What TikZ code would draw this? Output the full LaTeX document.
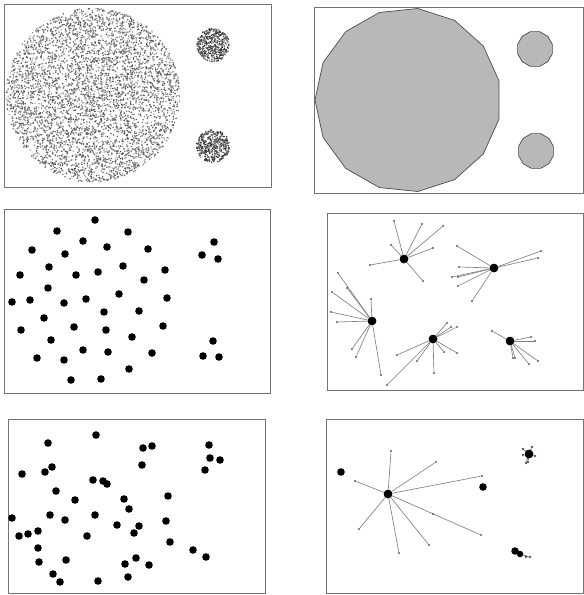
\documentclass[tikz,border=0pt]{standalone}
\begin{document}
\begin{tikzpicture}[x=1pt,y=-1pt,
  panel/.style={draw=black!55,line width=0.9pt},
  bigdot/.style={circle,fill=black,inner sep=0pt,minimum size=7.6pt},
  hub/.style={circle,fill=black,inner sep=0pt,minimum size=8.5pt},
  tipdot/.style={circle,fill=black!65,inner sep=0pt,minimum size=2.4pt},
  spoke/.style={draw=black!50,line width=0.65pt},
  blob/.style={draw=black!70,line width=0.7pt,fill=black!28}]
\useasboundingbox (0,0) rectangle (584,595);
\fill[white] (0,0) rectangle (584,595);
\pgfmathsetseed{42}

% ---------- panel 1 : stippled discs ----------
\draw[panel] (4,4) rectangle (271,187);
\coordinate (c1) at (93,95);
\coordinate (c2) at (213,45);
\coordinate (c3) at (213,146);
\foreach \k in {1,...,4600}{
  \pgfmathsetmacro\rr{87*sqrt(rnd)}
  \pgfmathsetmacro\aa{360*rnd}
  \pgfmathsetmacro\gg{30+45*rnd}
  \fill[black!\gg] (c1) ++(\aa:\rr) circle (0.85pt);
}
\foreach \cc in {c2,c3}{
  \foreach \k in {1,...,420}{
    \pgfmathsetmacro\rr{16.5*sqrt(rnd)}
    \pgfmathsetmacro\aa{360*rnd}
    \pgfmathsetmacro\gg{45+45*rnd}
    \fill[black!\gg] (\cc) ++(\aa:\rr) circle (0.85pt);
  }
}

% ---------- panel 2 : polygons ----------
\draw[panel] (314,7) rectangle (583,193);
\draw[blob] plot[samples at={0,...,14}] ({408+93*cos(180+24*\x)},{100+92*sin(180+24*\x)}) -- cycle;
\draw[blob] plot[samples at={0,...,11}] ({535+18*cos(15+30*\x)},{49+18*sin(15+30*\x)}) -- cycle;
\draw[blob] plot[samples at={0,...,11}] ({536+18*cos(15+30*\x)},{151+18*sin(15+30*\x)}) -- cycle;

% ---------- panel 3 : points ----------
\draw[panel] (4,209) rectangle (270,393);
\foreach \p [count=\i] in {(95,220),(57,231),(128,232),(83,241),(32,250),(107,247),(148,249),(65,254),
  (214,242),(202,255),(218,259),(49,267),(20,275),(76,275),(98,272),(123,266),(165,270),(144,280),
  (48,288),(12,302),(30,300),(64,303),(86,299),(119,294),(167,298),(104,312),(139,311),(44,318),
  (21,330),(74,327),(106,330),(163,326),(51,340),(132,337),(83,350),(108,352),(152,353),
  (213,341),(203,356),(219,357),(37,358),(64,360),(129,369),(71,380),(101,379)}
  \node[bigdot] (m\i) at \p {};

% ---------- panel 4 : stars ----------
\draw[panel] (327,213) rectangle (583,390);
\node[hub] (ha) at (404,259) {};
\node[hub] (hb) at (494,268) {};
\node[hub] (hc) at (372,321) {};
\node[hub] (hd) at (433,339) {};
\node[hub] (he) at (510,341) {};
\foreach \h/\lst in {
  ha/{(394,221),(422,224),(443,226),(391,245),(433,248),(370,265),(423,281)},
  hb/{(457,246),(541,251),(538,258),(459,267),(452,277),(458,277),(458,286),(472,301)},
  hc/{(338,273),(347,288),(332,292),(331,312),(337,322),(371,299),(352,349),(356,357),(381,375)},
  hd/{(447,323),(451,327),(457,327),(397,355),(387,385),(417,361),(434,373),(444,352),(457,353)},
  he/{(492,331),(531,337),(535,341),(513,358),(515,358),(529,364),(538,361)}}{
  \foreach \p [count=\j] in \lst {
    \node[tipdot] (\h t\j) at \p {};
    \draw[spoke] (\h) -- (\h t\j);
  }
}
\foreach \h in {ha,hb,hc,hd,he} \node[hub] at (\h) {};

% ---------- panel 5 : points ----------
\draw[panel] (8,419) rectangle (265,593);
\foreach \p [count=\i] in {(96,435),(48,443),(143,448),(152,446),(209,445),(210,458),(220,460),(205,470),
  (142,465),(52,467),(45,472),(22,474),(93,480),(103,481),(107,484),(56,491),(75,500),(168,496),
  (124,499),(129,509),(50,515),(95,515),(12,518),(65,520),(166,521),(117,525),(139,526),(134,533),
  (38,531),(28,534),(19,536),(87,536),(170,542),(38,548),(193,550),(206,557),(136,558),(39,562),
  (66,560),(125,564),(149,565),(53,574),(128,577),(60,582),(98,581)}
  \node[bigdot] (n\i) at \p {};

% ---------- panel 6 : merged stars ----------
\draw[panel] (326,419) rectangle (583,593);
\node[bigdot] (q1) at (341,472) {};
\node[bigdot] (q2) at (483,487) {};
\node[hub] (hf) at (388,494) {};
\foreach \p [count=\j] in {(391,451),(436,462),(482,476),(355,481),(359,529),(399,553),(429,545),(481,535)}{
  \node[tipdot] (hft\j) at \p {};
  \draw[spoke] (hf) -- (hft\j);
}
\node[tipdot] (hfm) at (433,514) {};
\node[hub] at (hf) {};
\node[hub] (hg) at (529,454) {};
\foreach \p [count=\j] in {(523,449),(532,447),(523,455),(535,456),(528,462),(526,463)}{
  \node[tipdot,minimum size=2.8pt] (hgt\j) at \p {};
  \draw[spoke,draw=black!70] (hg) -- (hgt\j);
}
\node[hub] at (hg) {};
\node[hub,minimum size=7.5pt] (hh) at (515,551) {};
\node[hub,minimum size=6.5pt] (hh2) at (520,554) {};
\node[tipdot,minimum size=2.8pt] (hht1) at (526,557) {};
\node[tipdot,minimum size=2.8pt] (hht2) at (530,557) {};
\draw[spoke,draw=black!70] (hh2) -- (hht2);
\end{tikzpicture}
\end{document}
